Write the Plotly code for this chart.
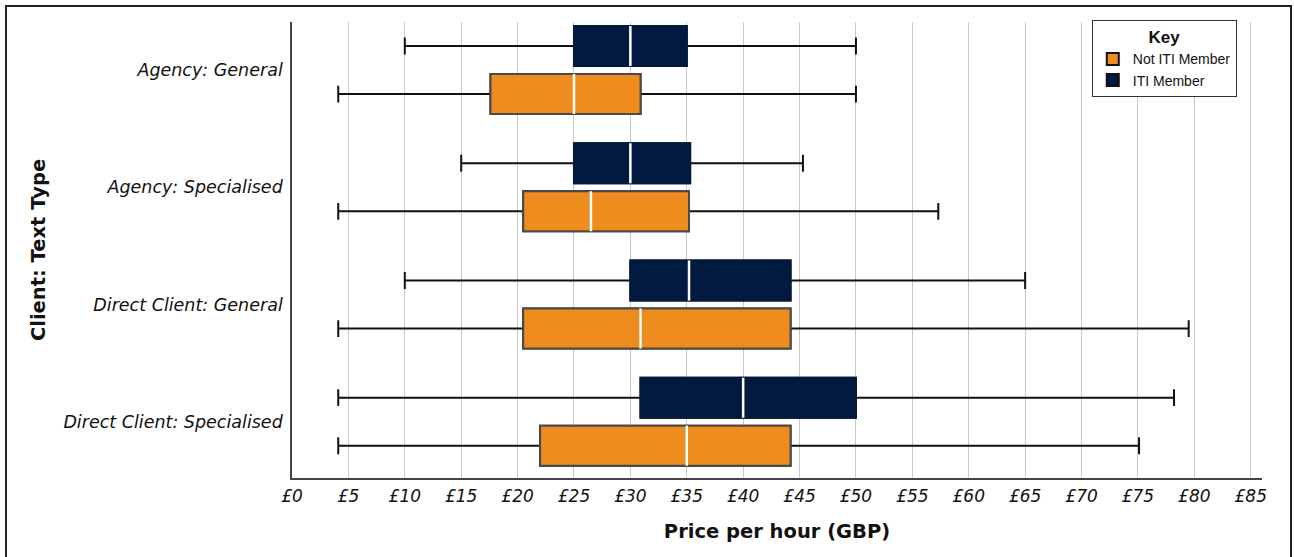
import plotly.graph_objects as go

categories = ["Agency: General", "Agency: Specialised",
              "Direct Client: General", "Direct Client: Specialised"]

# Not ITI Member (orange)
not_iti_low = [4.1, 4.1, 4.1, 4.1]
not_iti_q1 = [17.6, 20.5, 20.5, 22.0]
not_iti_median = [25.0, 26.5, 30.9, 35.0]
not_iti_q3 = [30.9, 35.2, 44.2, 44.2]
not_iti_high = [50.0, 57.3, 79.5, 75.1]

# ITI Member (navy)
iti_low = [10.0, 15.0, 10.0, 4.1]
iti_q1 = [25.0, 25.0, 30.0, 30.9]
iti_median = [30.0, 30.0, 35.2, 40.0]
iti_q3 = [35.0, 35.3, 44.2, 50.0]
iti_high = [50.0, 45.3, 65.0, 78.2]

x_ticks = list(range(0, 90, 5))

NAVY = "#031a40"
ORANGE = "#ee8d1d"
LABEL_FONT = "DejaVu Sans"

series = [
    dict(name="ITI Member", group="iti", fill=NAVY, outline=NAVY, rank=2,
         low=iti_low, q1=iti_q1, med=iti_median, q3=iti_q3, high=iti_high),
    dict(name="Not ITI Member", group="not", fill=ORANGE, outline="#4a4a4a", rank=1,
         low=not_iti_low, q1=not_iti_q1, med=not_iti_median, q3=not_iti_q3, high=not_iti_high),
]

fig = go.Figure()
for s in series:
    # whiskers + box
    fig.add_trace(go.Box(
        y=categories, q1=s["q1"], median=s["med"], q3=s["q3"],
        lowerfence=s["low"], upperfence=s["high"], orientation="h",
        name=s["name"], offsetgroup=s["group"], legendrank=s["rank"],
        fillcolor=s["fill"], line=dict(color="#111111", width=2),
        whiskerwidth=0.42, boxpoints=False, hoverinfo="skip", showlegend=True,
    ))
    # box outline
    fig.add_trace(go.Box(
        y=categories, q1=s["q1"], median=s["med"], q3=s["q3"],
        lowerfence=s["q1"], upperfence=s["q3"], orientation="h",
        name=s["name"], offsetgroup=s["group"],
        fillcolor=s["fill"], line=dict(color=s["outline"], width=2),
        whiskerwidth=0, boxpoints=False, hoverinfo="skip", showlegend=False,
    ))
    # white median line
    fig.add_trace(go.Box(
        y=categories, q1=s["med"], median=s["med"], q3=s["med"],
        lowerfence=s["med"], upperfence=s["med"], orientation="h",
        name=s["name"], offsetgroup=s["group"],
        fillcolor="white", line=dict(color="white", width=2.5),
        whiskerwidth=0, boxpoints=False, hoverinfo="skip", showlegend=False,
    ))

fig.update_layout(
    width=1294, height=557,
    margin=dict(l=292, r=32, t=22, b=79),
    paper_bgcolor="white", plot_bgcolor="white",
    boxmode="group", boxgap=0.18, boxgroupgap=0.167,
    font=dict(family=LABEL_FONT, color="#111111"),
    legend=dict(
        title=dict(text="Key", side="top center",
                   font=dict(family="Liberation Sans", size=17, weight="bold")),
        font=dict(family="Liberation Sans", size=14, color="#111111"),
        x=0.974, xanchor="right", y=1.004, yanchor="top",
        bgcolor="white", bordercolor="#333333", borderwidth=1,
        itemwidth=30, traceorder="normal",
    ),
    xaxis=dict(
        range=[0, 86], tickvals=x_ticks, ticktext=[f"£{v}" for v in x_ticks],
        showgrid=True, gridcolor="#c8c8c8", gridwidth=1,
        showline=True, linecolor="#444444", linewidth=1.5,
        ticks="", zeroline=False, ticklabelstandoff=2,
        tickfont=dict(family=LABEL_FONT, size=17, style="italic", color="#111111"),
        title=dict(text="Price per hour (GBP)", standoff=19,
                   font=dict(family=LABEL_FONT, size=19.5, weight="bold", color="#111111")),
    ),
    yaxis=dict(
        type="category", categoryorder="array", categoryarray=categories,
        range=[3.48, -0.41],
        showgrid=False, showline=True, linecolor="#444444", linewidth=1.5,
        ticks="", zeroline=False, ticklabelstandoff=4,
        tickfont=dict(family=LABEL_FONT, size=17.5, style="italic", color="#111111"),
        title=dict(text="Client: Text Type", standoff=13,
                   font=dict(family=LABEL_FONT, size=19.5, weight="bold", color="#111111")),
    ),
    shapes=[dict(type="rect", xref="paper", yref="paper",
                 x0=(6 - 292) / 970, x1=(1291 - 292) / 970,
                 y0=(478 - 562) / 456, y1=(478 - 6) / 456,
                 line=dict(color="#222222", width=2), fillcolor="rgba(0,0,0,0)",
                 layer="below")],
)

fig.write_html("out.html", config={"displayModeBar": False},
               post_script="document.body.style.margin='0';")
